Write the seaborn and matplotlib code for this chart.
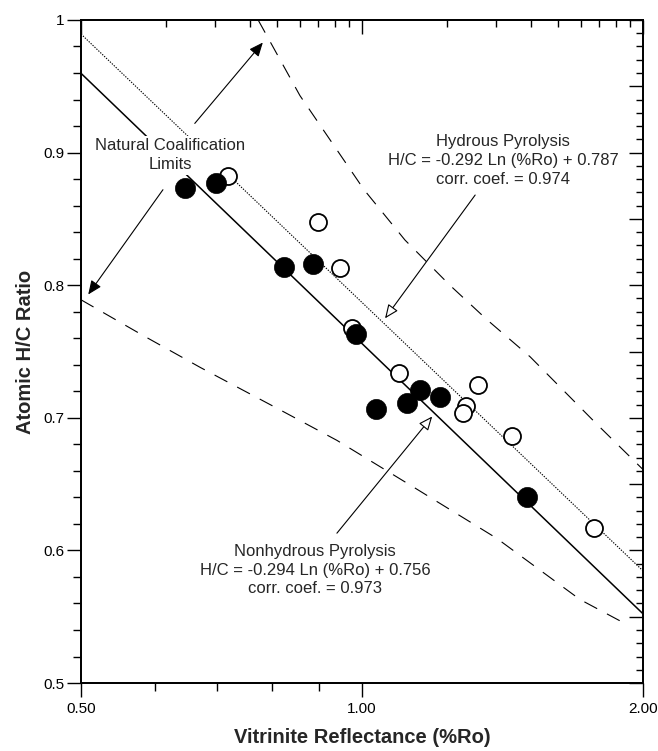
import numpy as np
import pandas as pd
import matplotlib
matplotlib.use("Agg")
import matplotlib.pyplot as plt
import seaborn as sns

# ---------------- data ----------------
# Nonhydrous pyrolysis (filled circles)
nonhyd_ro = [0.646, 0.698, 0.825, 0.886, 0.985, 1.035, 1.117, 1.154, 1.212, 1.503]
nonhyd_hc = [0.873, 0.877, 0.814, 0.816, 0.763, 0.707, 0.711, 0.721, 0.716, 0.640]

# Hydrous pyrolysis (open circles)
hyd_ro = [0.719, 0.897, 0.947, 0.976, 1.096, 1.331, 1.293, 1.283, 1.448, 1.773]
hyd_hc = [0.882, 0.848, 0.813, 0.768, 0.734, 0.725, 0.709, 0.704, 0.686, 0.617]

# regression coefficients shown in the chart
hyd_slope, hyd_icpt = -0.292, 0.787
nonhyd_slope, nonhyd_icpt = -0.294, 0.756
fit_ro = [0.5, 2.0]

# natural coalification limits
upper_ro = [0.774, 0.858, 1.005, 1.112, 1.242, 1.361, 1.514, 1.786, 2.0]
upper_hc = [1.000, 0.943, 0.872, 0.834, 0.800, 0.774, 0.746, 0.695, 0.661]
lower_ro = [0.5, 0.583, 0.671, 0.827, 0.940, 1.140, 1.395, 1.712, 1.900]
lower_hc = [0.789, 0.762, 0.738, 0.704, 0.683, 0.647, 0.609, 0.563, 0.546]

x_ticks = [0.5, 1.0, 2.0]
x_tick_labels = ["0.50", "1.00", "2.00"]
y_ticks = [0.5, 0.6, 0.7, 0.8, 0.9, 1.0]
y_tick_labels = ["0.5", "0.6", "0.7", "0.8", "0.9", "1"]

# ---------------- style ----------------
sns.set_theme(style="white")
plt.rcParams['font.family'] = ['Liberation Sans', 'DejaVu Sans']
plt.rcParams['axes.unicode_minus'] = False

fig = plt.figure(figsize=(6.58, 7.51), dpi=100)
ax = fig.add_axes([0.1231, 0.0905, 0.8541, 0.8829])
ax.set_xscale('log')

df_h = pd.DataFrame({"ro": hyd_ro, "hc": hyd_hc})
df_n = pd.DataFrame({"ro": nonhyd_ro, "hc": nonhyd_hc})
fit_ro_arr = np.array(fit_ro)
df_fh = pd.DataFrame({"ro": fit_ro, "hc": hyd_slope * np.log(fit_ro_arr) + hyd_icpt})
df_fn = pd.DataFrame({"ro": fit_ro, "hc": nonhyd_slope * np.log(fit_ro_arr) + nonhyd_icpt})
df_up = pd.DataFrame({"ro": upper_ro, "hc": upper_hc})
df_lo = pd.DataFrame({"ro": lower_ro, "hc": lower_hc})

lw = 0.8
sns.lineplot(data=df_up, x="ro", y="hc", ax=ax, color="black", lw=lw,
             sort=False, estimator=None, zorder=2).lines[-1].set_dashes([13, 10])
sns.lineplot(data=df_lo, x="ro", y="hc", ax=ax, color="black", lw=lw,
             sort=False, estimator=None, zorder=2).lines[-1].set_dashes([13, 10])
sns.lineplot(data=df_fh, x="ro", y="hc", ax=ax, color="black", lw=0.8,
             estimator=None, zorder=2).lines[-1].set_dashes([1.2, 1.2])
sns.lineplot(data=df_fn, x="ro", y="hc", ax=ax, color="black", lw=1.1,
             estimator=None, zorder=2)

sns.scatterplot(data=df_h, x="ro", y="hc", ax=ax, marker="o", s=150,
                facecolor="white", edgecolor="black", linewidth=1.3, zorder=4)
sns.scatterplot(data=df_n, x="ro", y="hc", ax=ax, marker="o", s=210,
                color="black", edgecolor="black", linewidth=0.5, zorder=5)

ax.set_xlim(0.5, 2.0)
ax.set_ylim(0.5, 1.0)

# bottom / left ticks
ax.set_xticks(x_ticks)
ax.set_xticklabels(x_tick_labels)
ax.set_xticks([0.6, 0.7, 0.8, 0.9], minor=True)
ax.xaxis.set_minor_formatter(matplotlib.ticker.NullFormatter())
ax.set_yticks(y_ticks)
ax.set_yticklabels(y_tick_labels)
ax.set_yticks(np.arange(0.52, 1.0, 0.02), minor=True)
ax.tick_params(axis='both', which='major', direction='out', length=10, width=1,
               color='black', labelsize=11, labelcolor='black', pad=2,
               bottom=True, left=True, top=False, right=False)
ax.tick_params(axis='both', which='minor', direction='out', length=5.5, width=1,
               color='black', bottom=True, left=True, top=False, right=False)
ax.tick_params(axis='x', which='major', pad=4)

# top ticks (log-style within each factor-of-2 interval)
axt = ax.twiny()
axt.set_xscale('log')
axt.set_xlim(0.5, 2.0)
axt.set_xticks([0.5, 1.0, 2.0])
axt.set_xticklabels([])
top_minor = [0.5 * 2 ** np.log10(k) for k in range(2, 10)] + [2 ** np.log10(k) for k in range(2, 10)]
axt.set_xticks(top_minor, minor=True)
axt.xaxis.set_minor_formatter(matplotlib.ticker.NullFormatter())
axt.tick_params(axis='x', which='major', direction='in', length=10, width=1, color='black')
axt.tick_params(axis='x', which='minor', direction='in', length=5, width=1, color='black')

# right ticks
axr = ax.twinx()
axr.set_ylim(0.5, 1.0)
axr.set_yticks(np.arange(0.5, 1.001, 0.05))
axr.set_yticklabels([])
axr.set_yticks(np.arange(0.51, 1.0, 0.01), minor=True)
axr.tick_params(axis='y', which='major', direction='in', length=10, width=1, color='black')
axr.tick_params(axis='y', which='minor', direction='in', length=5, width=1, color='black')

for a in (ax, axt, axr):
    for sp in a.spines.values():
        sp.set_color('black')
        sp.set_linewidth(1.1)
        sp.set_visible(True)

ax.set_xlabel("Vitrinite Reflectance (%Ro)", fontsize=14.5, fontweight='bold')
ax.set_ylabel("Atomic H/C Ratio", fontsize=14.5, fontweight='bold')
ax.xaxis.set_label_coords(0.5, -0.068)
ax.yaxis.set_label_coords(-0.082, 0.5)

# annotations (text boxes sit above lines but below markers)
bbox = dict(boxstyle="square,pad=0.15", fc="white", ec="none")
tsize = 12

ax.text(0.623, 0.898, "Natural Coalification\nLimits", ha='center', va='center',
        fontsize=tsize, linespacing=1.35, bbox=bbox, zorder=3)
ax.text(1.416, 0.894, "Hydrous Pyrolysis\nH/C = -0.292 Ln (%Ro) + 0.787\ncorr. coef. = 0.974",
        ha='center', va='center', fontsize=tsize, linespacing=1.3, bbox=bbox, zorder=3)
ax.text(0.891, 0.585, "Nonhydrous Pyrolysis\nH/C = -0.294 Ln (%Ro) + 0.756\ncorr. coef. = 0.973",
        ha='center', va='center', fontsize=tsize, linespacing=1.3, bbox=bbox, zorder=3)

filled = dict(arrowstyle="-|>,head_length=0.7,head_width=0.3", color="black", lw=0.8,
              shrinkA=0, shrinkB=0)
openh = dict(arrowstyle="-|>,head_length=0.7,head_width=0.3", color="black", lw=0.8,
             fc="white", shrinkA=0, shrinkB=0)
ax.annotate("", xy=(0.783, 0.983), xytext=(0.662, 0.922), arrowprops=filled, zorder=7)
ax.annotate("", xy=(0.509, 0.793), xytext=(0.612, 0.872), arrowprops=filled, zorder=7)
ax.annotate("", xy=(1.0585, 0.775), xytext=(1.322, 0.868), arrowprops=openh, zorder=7)
ax.annotate("", xy=(1.189, 0.701), xytext=(0.940, 0.613), arrowprops=openh, zorder=7)

fig.savefig("out.png", dpi=100)
